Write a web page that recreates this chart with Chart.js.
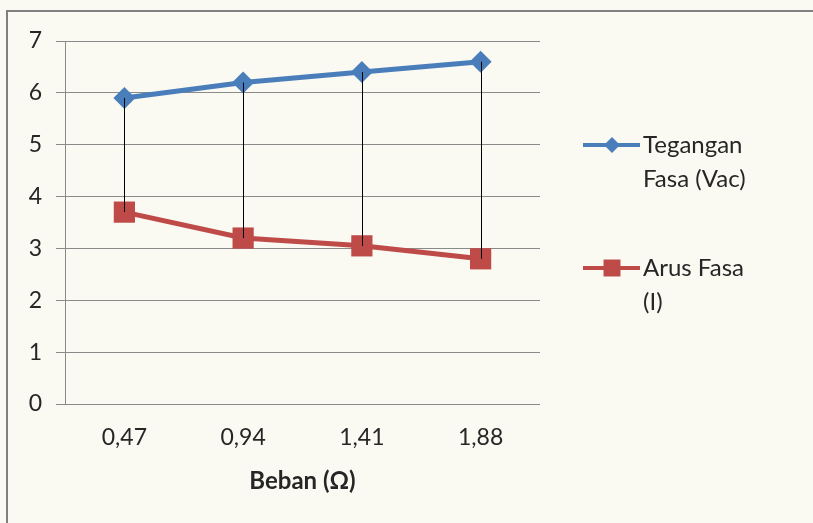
<!DOCTYPE html>
<html>
<head>
<meta charset="utf-8">
<script src="https://cdn.jsdelivr.net/npm/chart.js@4"></script>
<style>
  html, body { margin: 0; padding: 0; background: #fafaf2; }
  #wrap { position: relative; width: 813px; height: 523px; overflow: hidden; }
  #frame { position: absolute; left: 6px; top: 10px; width: 900px; height: 600px;
           border-left: 2px solid #808080; border-top: 2px solid #808080; }
  canvas { position: absolute; left: 0; top: 0; }
</style>
</head>
<body>
<div id="wrap">
  <div id="frame"></div>
  <canvas id="c" width="813" height="523"></canvas>
</div>
<script>
// Load values (ohm) on the category axis
const categories = ['0,47', '0,94', '1,41', '1,88'];
// Phase voltage and phase current at each load
const teganganFasa = [5.9, 6.2, 6.4, 6.6];
const arusFasa = [3.7, 3.2, 3.05, 2.8];
const seriesNames = [['Tegangan', 'Fasa (Vac)'], ['Arus Fasa', '(I)']];
const yTicks = [0, 1, 2, 3, 4, 5, 6, 7];

const FONT = 'Lato, "Open Sans", sans-serif';
const BLUE = '#4a7ebb';
const RED = '#be4b48';

// Vertical high-low lines joining the two series at each category
const highLowLines = {
  id: 'highLowLines',
  afterDatasetsDraw(chart) {
    const ctx = chart.ctx;
    const x = chart.scales.x, y = chart.scales.y;
    ctx.save();
    ctx.strokeStyle = '#000';
    ctx.lineWidth = 1;
    categories.forEach((c, i) => {
      const px = Math.round(x.getPixelForValue(i)) + 0.5;
      ctx.beginPath();
      ctx.moveTo(px, y.getPixelForValue(teganganFasa[i]));
      ctx.lineTo(px, y.getPixelForValue(arusFasa[i]));
      ctx.stroke();
    });
    ctx.restore();
  }
};

// Legend at the right, with wrapped labels
const sideLegend = {
  id: 'sideLegend',
  afterDraw(chart) {
    const ctx = chart.ctx;
    const entries = [
      { color: BLUE, style: 'rectRot', r: 8, y: 145, lines: seriesNames[0] },
      { color: RED, style: 'rect', r: 12, y: 268, lines: seriesNames[1] }
    ];
    ctx.save();
    entries.forEach(e => {
      ctx.strokeStyle = e.color;
      ctx.lineWidth = 4;
      ctx.beginPath();
      ctx.moveTo(583, e.y);
      ctx.lineTo(640, e.y);
      ctx.stroke();
      ctx.fillStyle = e.color;
      Chart.helpers.drawPoint(ctx, { pointStyle: e.style, radius: e.r, borderWidth: 0 }, 612, e.y);
      ctx.fillStyle = '#262626';
      ctx.font = '24px ' + FONT;
      ctx.textAlign = 'left';
      ctx.textBaseline = 'middle';
      e.lines.forEach((t, k) => ctx.fillText(t, 643, e.y + k * 34));
    });
    ctx.restore();
  }
};

new Chart(document.getElementById('c'), {
  type: 'line',
  data: {
    labels: categories,
    datasets: [
      {
        label: seriesNames[0].join(' '),
        data: teganganFasa,
        borderColor: BLUE,
        backgroundColor: BLUE,
        borderWidth: 5,
        pointStyle: 'rectRot',
        pointRadius: 11,
        pointBorderWidth: 0,
        tension: 0
      },
      {
        label: seriesNames[1].join(' '),
        data: arusFasa,
        borderColor: RED,
        backgroundColor: RED,
        borderWidth: 5,
        pointStyle: 'rect',
        pointRadius: 15,
        pointBorderWidth: 0,
        tension: 0
      }
    ]
  },
  options: {
    responsive: false,
    animation: false,
    layout: { padding: { left: 0, top: 41, right: 273, bottom: 0 } },
    plugins: { legend: { display: false }, tooltip: { enabled: false } },
    scales: {
      x: {
        offset: true,
        grid: { display: false, drawTicks: false },
        border: { display: false },
        ticks: { color: '#262626', font: { family: FONT, size: 23 }, padding: 20 },
        title: { display: true, text: 'Beban (Ω)', color: '#262626',
                 font: { family: FONT, size: 24, weight: 'bold' }, padding: { top: 10, bottom: 27 } },
        afterFit(s) { s.height = 523 - 404; }
      },
      y: {
        min: 0, max: 7,
        afterBuildTicks(s) { s.ticks = yTicks.map(v => ({ value: v })); },
        grid: { color: '#8a8a8a', lineWidth: 1, tickLength: 9, drawTicks: true },
        border: { display: true, color: '#8a8a8a', width: 1 },
        ticks: { color: '#262626', font: { family: FONT, size: 23 }, padding: 14 },
        afterFit(s) { s.width = 65; }
      }
    }
  },
  plugins: [highLowLines, sideLegend]
});
</script>
</body>
</html>
